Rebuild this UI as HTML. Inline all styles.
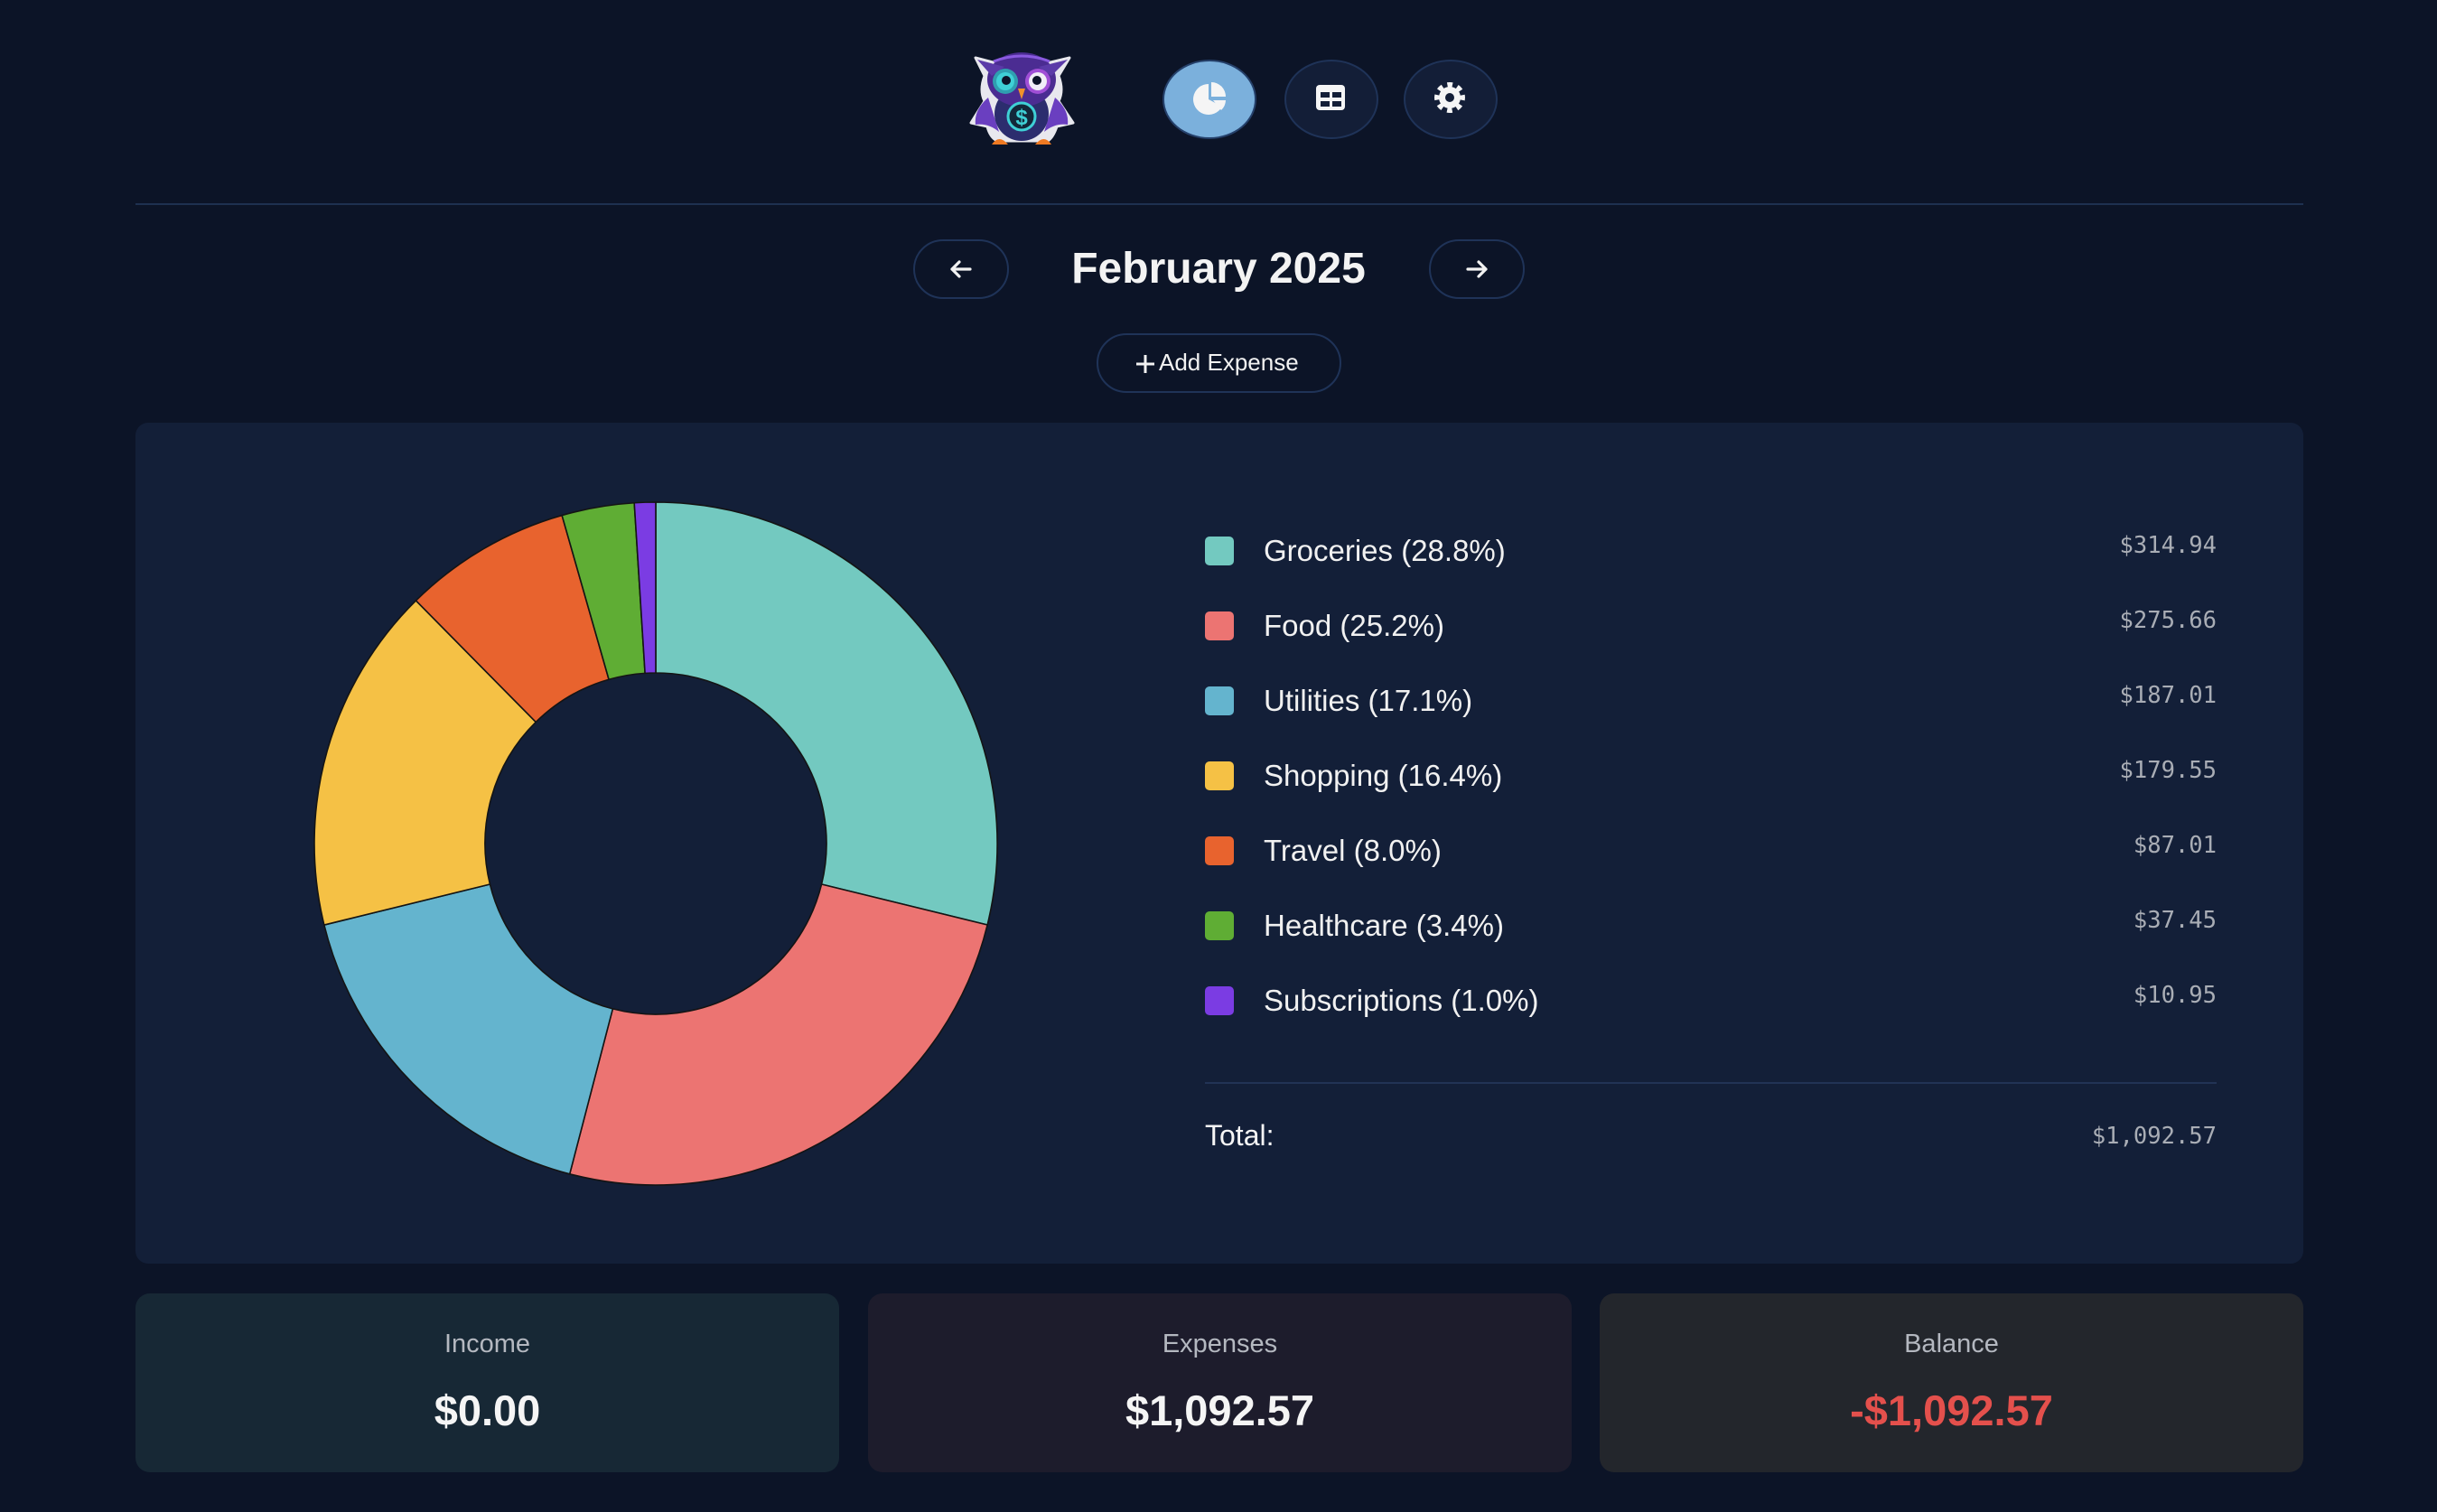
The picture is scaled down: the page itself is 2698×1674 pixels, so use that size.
<!DOCTYPE html>
<html>
<head>
<meta charset="utf-8">
<style>
  html,body{margin:0;padding:0;}
  body{width:2698px;height:1674px;background:#0c1427;position:relative;overflow:hidden;font-family:"Liberation Sans",Arial,sans-serif;color:#f2f2f2;}
  .abs{position:absolute;}
  .hbtn{position:absolute;top:66px;width:100px;height:84px;border-radius:50%;border:2px solid #1f3358;background:#131e37;}
  .pill{position:absolute;border:2px solid #1f3358;box-sizing:border-box;background:transparent;}
  .card{position:absolute;left:150px;top:468px;width:2400px;height:931px;background:#131f38;border-radius:14px;}
  .sw{position:absolute;left:1334px;width:32px;height:32px;border-radius:5px;}
  .lbl{position:absolute;left:1399px;height:50px;line-height:50px;font-size:33px;color:#f1f1f1;white-space:nowrap;}
  .amt{position:absolute;right:244px;height:40px;line-height:40px;font-family:"DejaVu Sans Mono","Liberation Mono",monospace;font-size:25.5px;color:#a9adb5;white-space:nowrap;text-align:right;}
  .bcard{position:absolute;top:1432px;width:779px;height:198px;border-radius:16px;}
  .bl{position:absolute;left:0;width:100%;top:1468px;height:40px;line-height:40px;font-size:29px;color:#b4b8c0;text-align:center;}
  .bv{position:absolute;left:0;width:100%;height:60px;line-height:60px;font-size:47px;font-weight:bold;color:#f5f5f5;text-align:center;}
</style>
</head>
<body>

<!-- Owl logo -->
<svg class="abs" style="left:0;top:0" width="2698" height="240" viewBox="0 0 2698 240">
  <g stroke="#e8e8ee" stroke-width="3" stroke-linejoin="round">
    <path d="M1080,64 L1103,70 Q1131,52 1159,70 L1184,64 L1172,84 Q1178,100 1172,112 L1188,136 L1170,140 Q1166,152 1160,156 L1104,156 Q1096,152 1093,140 L1075,136 L1090,112 Q1084,100 1090,84 Z" fill="#e8e8ee"/>
  </g>
  <path d="M1094,108 Q1078,122 1080,138 Q1094,136 1106,146 Z" fill="#6a3fc0"/>
  <path d="M1168,108 Q1184,122 1182,138 Q1168,136 1156,146 Z" fill="#6a3fc0"/>
  <ellipse cx="1131" cy="126" rx="30" ry="30" fill="#2c2d6e"/>
  <ellipse cx="1131" cy="88" rx="38" ry="30" fill="#4b2c92"/>
  <path d="M1082,66 L1112,74 L1098,84 Z" fill="#5b3aa8"/>
  <path d="M1182,66 L1150,74 L1164,84 Z" fill="#5b3aa8"/>
  <path d="M1100,68 Q1131,56 1162,68" stroke="#8a5ae0" stroke-width="3" fill="none"/>
  <circle cx="1113" cy="90" r="14" fill="#2f9fb0"/>
  <circle cx="1113" cy="90" r="10" fill="#3fd0d6"/>
  <circle cx="1114" cy="89" r="5" fill="#0d1428"/>
  <circle cx="1149" cy="90" r="14" fill="#a04fd6"/>
  <circle cx="1149" cy="90" r="10" fill="#f1eef6"/>
  <circle cx="1148" cy="89" r="5" fill="#0d1428"/>
  <path d="M1127,98 L1135,98 L1131,110 Z" fill="#f0922a"/>
  <circle cx="1131" cy="129" r="15" fill="#13283a" stroke="#3fd0d6" stroke-width="3"/>
  <text x="1131" y="138" font-family="Liberation Sans, sans-serif" font-size="24" font-weight="bold" fill="#3fd0d6" text-anchor="middle">$</text>
  <path d="M1098,160 Q1106,148 1116,160 Z" fill="#f07a22"/>
  <path d="M1146,160 Q1156,148 1164,160 Z" fill="#f07a22"/>
</svg>

<!-- header buttons -->
<div class="hbtn" style="left:1287px;background:#7bb0dc;border-color:#25406a;"></div>
<div class="hbtn" style="left:1422px;"></div>
<div class="hbtn" style="left:1554px;"></div>
<svg class="abs" style="left:0;top:0" width="2698" height="240" viewBox="0 0 2698 240">
  <g fill="#f5f5f5">
    <path d="M1338,110 L1338,93 A17,17 0 1 0 1353,118 Z"/>
    <path d="M1341,107 L1341,91 A16,16 0 0 1 1357,107 Z"/>
    <path d="M1343,111 L1357,111 A16,16 0 0 1 1352,122 Z"/>
  </g>
  <rect x="1457" y="94" width="32" height="28" rx="4" fill="#f5f5f5"/>
  <rect x="1462" y="102" width="10" height="6" fill="#131e37"/>
  <rect x="1475" y="102" width="10" height="6" fill="#131e37"/>
  <rect x="1462" y="112" width="10" height="6" fill="#131e37"/>
  <rect x="1475" y="112" width="10" height="6" fill="#131e37"/>
  <circle cx="1605" cy="108" r="12" fill="#f5f5f5"/>
  <circle cx="1605" cy="108" r="14" fill="none" stroke="#f5f5f5" stroke-width="6" stroke-dasharray="5.5 5.5" transform="rotate(-11 1605 108)"/>
  <circle cx="1605" cy="108" r="5" fill="#131e37"/>
  <rect x="150" y="225" width="2400" height="2" fill="#1e3050"/>
</svg>

<!-- month nav -->
<div class="pill" style="left:1011px;top:265px;width:106px;height:66px;border-radius:33px;"></div>
<div class="pill" style="left:1582px;top:265px;width:106px;height:66px;border-radius:33px;"></div>
<svg class="abs" style="left:0;top:250px" width="2698" height="100" viewBox="0 250 2698 100">
  <g stroke="#f2f2f2" stroke-width="3.2" fill="none" stroke-linecap="round" stroke-linejoin="round">
    <path d="M1074,298 L1054,298 M1062,290 L1054,298 L1062,306"/>
    <path d="M1625,298 L1645,298 M1637,290 L1645,298 L1637,306"/>
  </g>
</svg>
<div class="abs" style="left:0;width:2698px;top:268px;height:60px;line-height:60px;text-align:center;font-size:48px;font-weight:bold;color:#f3f3f3;">February 2025</div>

<div class="pill" style="left:1214px;top:369px;width:271px;height:66px;border-radius:33px;"></div>
<svg class="abs" style="left:1256px;top:391px" width="24" height="24" viewBox="0 0 24 24">
  <path d="M12,2 L12,22 M2,12 L22,12" stroke="#f2f2f2" stroke-width="3"/>
</svg>
<div class="abs" style="left:1283px;top:381px;height:40px;line-height:40px;font-size:26px;color:#f2f2f2;">Add Expense</div>

<!-- main card -->
<div class="card"></div>
<svg class="abs" style="left:0;top:0" width="2698" height="1400" viewBox="0 0 2698 1400">
  <g stroke="#141414" stroke-width="1.6" stroke-linejoin="round">
    <path fill="#73c9c0" d="M726,556 A378,378 0 0 1 1093.14,1023.98 L909.57,978.99 A189,189 0 0 0 726,745 Z"/>
    <path fill="#ec7472" d="M1093.14,1023.98 A378,378 0 0 1 630.72,1299.79 L678.36,1116.90 A189,189 0 0 0 909.57,978.99 Z"/>
    <path fill="#64b4ce" d="M630.72,1299.79 A378,378 0 0 1 358.88,1024.04 L542.44,979.02 A189,189 0 0 0 678.36,1116.90 Z"/>
    <path fill="#f5c145" d="M358.88,1024.04 A378,378 0 0 1 460.49,664.95 L593.24,799.48 A189,189 0 0 0 542.44,979.02 Z"/>
    <path fill="#e8632e" d="M460.49,664.95 A378,378 0 0 1 622.13,570.55 L674.06,752.28 A189,189 0 0 0 593.24,799.48 Z"/>
    <path fill="#5fad34" d="M622.13,570.55 A378,378 0 0 1 702.20,556.75 L714.10,745.37 A189,189 0 0 0 674.06,752.28 Z"/>
    <path fill="#7b3ce3" d="M702.20,556.75 A378,378 0 0 1 726,556 L726,745 A189,189 0 0 0 714.10,745.37 Z"/>
  </g>
  <rect x="1334" y="1198" width="1120" height="2" fill="#223355"/>
</svg>

<!-- legend -->
<div class="sw" style="top:594px;background:#73c9c0;"></div>
<div class="lbl" style="top:585px;">Groceries (28.8%)</div>
<div class="amt" style="top:584px;">$314.94</div>

<div class="sw" style="top:677px;background:#ec7472;"></div>
<div class="lbl" style="top:668px;">Food (25.2%)</div>
<div class="amt" style="top:667px;">$275.66</div>

<div class="sw" style="top:760px;background:#64b4ce;"></div>
<div class="lbl" style="top:751px;">Utilities (17.1%)</div>
<div class="amt" style="top:750px;">$187.01</div>

<div class="sw" style="top:843px;background:#f5c145;"></div>
<div class="lbl" style="top:834px;">Shopping (16.4%)</div>
<div class="amt" style="top:833px;">$179.55</div>

<div class="sw" style="top:926px;background:#e8632e;"></div>
<div class="lbl" style="top:917px;">Travel (8.0%)</div>
<div class="amt" style="top:916px;">$87.01</div>

<div class="sw" style="top:1009px;background:#5fad34;"></div>
<div class="lbl" style="top:1000px;">Healthcare (3.4%)</div>
<div class="amt" style="top:999px;">$37.45</div>

<div class="sw" style="top:1092px;background:#7b3ce3;"></div>
<div class="lbl" style="top:1083px;">Subscriptions (1.0%)</div>
<div class="amt" style="top:1082px;">$10.95</div>

<div class="lbl" style="left:1334px;top:1232px;font-size:32px;color:#f5f5f5;">Total:</div>
<div class="amt" style="top:1238px;">$1,092.57</div>

<!-- bottom cards -->
<div class="bcard" style="left:150px;background:#172835;"></div>
<div class="bcard" style="left:961px;background:#1d1c2c;"></div>
<div class="bcard" style="left:1771px;background:#23262c;"></div>

<div class="abs" style="left:150px;width:779px;top:0;height:1674px;">
  <div class="bl">Income</div>
  <div class="bv" style="top:1532px;">$0.00</div>
</div>
<div class="abs" style="left:961px;width:779px;top:0;height:1674px;">
  <div class="bl">Expenses</div>
  <div class="bv" style="top:1532px;">$1,092.57</div>
</div>
<div class="abs" style="left:1771px;width:779px;top:0;height:1674px;">
  <div class="bl">Balance</div>
  <div class="bv" style="top:1532px;color:#e4504c;">-$1,092.57</div>
</div>

</body>
</html>
